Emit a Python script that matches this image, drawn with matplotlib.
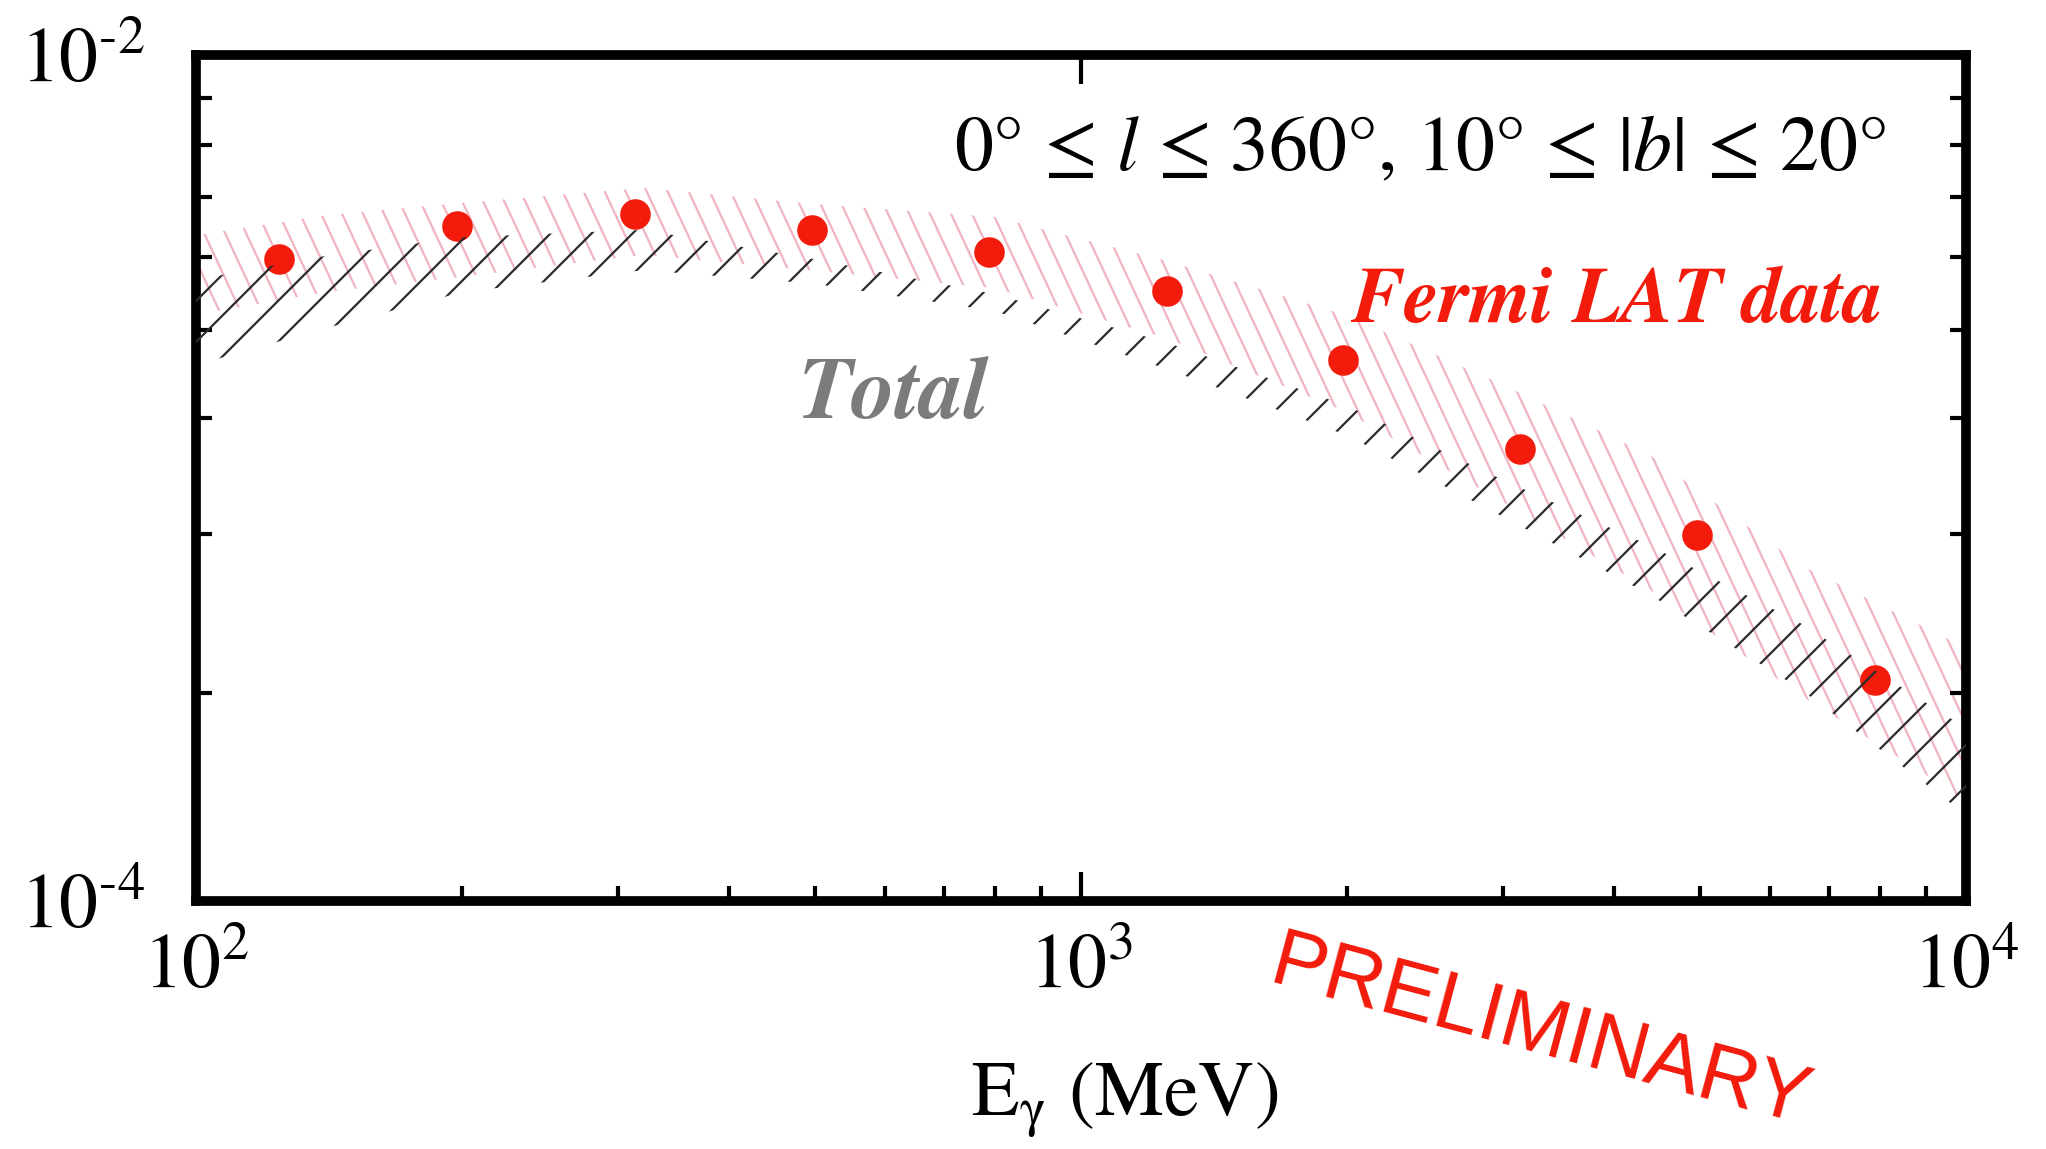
import numpy as np
import matplotlib
matplotlib.use("Agg")
import matplotlib.pyplot as plt
from matplotlib.collections import LineCollection
from matplotlib.ticker import FixedLocator, NullFormatter

# =========================================================
# data
# =========================================================

# Fermi LAT points (energy in MeV, E^2 x intensity)
energy_pts = [124, 197, 313, 496, 787, 1250, 1977, 3133, 4966, 7885]
flux_pts = [3.30e-3, 3.95e-3, 4.21e-3, 3.86e-3, 3.42e-3,
            2.77e-3, 1.90e-3, 1.17e-3, 7.33e-4, 3.33e-4]

# band nodes shared by both bands
band_energy = [100, 140, 200, 320, 500, 800, 1250, 2000, 3000, 4400, 6500, 10000]

# "Total" model band (black hatch)
total_hi = [2.94e-3, 3.35e-3, 3.71e-3, 3.86e-3, 3.29e-3, 2.72e-3,
            2.09e-3, 1.48e-3, 9.89e-4, 6.91e-4, 4.54e-4, 2.56e-4]
total_lo = [1.85e-3, 2.26e-3, 2.75e-3, 3.10e-3, 2.88e-3, 2.48e-3,
            1.81e-3, 1.26e-3, 8.09e-4, 5.29e-4, 3.17e-4, 1.60e-4]

# data systematic band (pink hatch)
data_hi = [3.75e-3, 4.18e-3, 4.47e-3, 4.85e-3, 4.44e-3, 4.14e-3,
           3.26e-3, 2.42e-3, 1.66e-3, 1.13e-3, 6.23e-4, 3.96e-4]
data_lo = [2.43e-3, 2.75e-3, 2.99e-3, 3.37e-3, 3.09e-3, 2.81e-3,
           2.14e-3, 1.43e-3, 8.77e-4, 5.43e-4, 3.07e-4, 1.73e-4]

# minor tick marks drawn on the y frame
y_minor_ticks = [7.91e-3, 6.12e-3, 4.62e-3, 3.33e-3, 2.24e-3, 1.39e-3, 7.37e-4, 3.10e-4]

x_major_ticks = [1e2, 1e3, 1e4]
x_tick_labels = [r"$10^{2}$", r"$10^{3}$", r"$10^{4}$"]
y_major_ticks = [1e-4, 1e-2]
y_tick_labels = [r"$10^{\text{-}4}$", r"$10^{\text{-}2}$"]

RED = "#f31b0b"

plt.rcParams["font.family"] = ["STIXGeneral", "DejaVu Sans"]
plt.rcParams["mathtext.fontset"] = "stix"

fig = plt.figure(figsize=(20.46, 11.49), dpi=100)
AX_POS = [196 / 2046, 1 - 901 / 1149, (1966 - 196) / 2046, (901 - 55) / 1149]
ax = fig.add_axes(AX_POS)


# =========================================================
# diagonal hatch clipped to a band
# =========================================================
def hatch_band(x, lo, hi, angle, step, color, lw, z):
    band = ax.fill_between(x, lo, hi, facecolor="none", edgecolor="none", zorder=z)
    w = fig.get_figwidth() * fig.dpi * AX_POS[2]
    h = fig.get_figheight() * fig.dpi * AX_POS[3]
    run = h / np.tan(np.radians(abs(angle)))
    if angle < 0:
        run = -run
    starts = np.arange(-abs(run) - step, w + abs(run) + step, step)
    segs = [[(s / w, 0.0), ((s + run) / w, 1.0)] for s in starts]
    lc = LineCollection(segs, colors=color, linewidths=lw,
                        transform=ax.transAxes, zorder=z)
    lc.set_clip_path(band.get_paths()[0], ax.transData)
    ax.add_collection(lc, autolim=False)


ax.set_xscale("log")
ax.set_yscale("log")
ax.set_xlim(1e2, 1e4)
ax.set_ylim(1e-4, 1e-2)

hatch_band(band_energy, data_lo, data_hi, -65, 21, "#f0b4c0", 1.6, 1)
ax.plot(energy_pts, flux_pts, "o", color=RED, markersize=22,
        markeredgewidth=0, zorder=2)
hatch_band(band_energy, total_lo, total_hi, 45, 41, "#2b2b2b", 1.6, 3)

# =========================================================
# frame and ticks
# =========================================================
for sp in ax.spines.values():
    sp.set_linewidth(7)

ax.set_xticks(x_major_ticks, labels=x_tick_labels)
ax.xaxis.set_minor_formatter(NullFormatter())
ax.set_yticks(y_major_ticks, labels=y_tick_labels)
ax.yaxis.set_minor_locator(FixedLocator(y_minor_ticks))
ax.yaxis.set_minor_formatter(NullFormatter())

ax.tick_params(axis="x", which="major", direction="in", length=21, width=3,
               top=True, labelsize=56, pad=24)
ax.tick_params(axis="x", which="minor", direction="in", length=11, width=3,
               top=False)
ax.tick_params(axis="y", which="major", direction="in", length=0,
               right=True, labelsize=56, pad=37)
ax.tick_params(axis="y", which="minor", direction="in", length=11.5, width=3,
               right=True)

# =========================================================
# texts
# =========================================================
fig.text(1886 / 2046, 1 - 170 / 1149,
         "0° ≤ $l$ ≤ 360°, 10° ≤ |$b$| ≤ 20°",
         ha="right", va="baseline", fontsize=56)
fig.text(1351 / 2046, 1 - 322 / 1149, "Fermi LAT data", color=RED,
         fontsize=57, fontweight="bold", fontstyle="italic",
         ha="left", va="baseline")
fig.text(799 / 2046, 1 - 418 / 1149, "Total", color="#7b7b7b",
         fontsize=63, fontweight="bold", fontstyle="italic",
         ha="left", va="baseline")
fig.text(1125 / 2046, 1 - 1116 / 1149, r"E$_{\mathrm{\gamma}}$ (MeV)",
         ha="center", va="baseline", fontsize=56)
fig.text(1540 / 2046, 1 - 1034 / 1149, "PRELIMINARY", color=RED,
         family="Liberation Sans", fontsize=59, rotation=-15,
         ha="center", va="center")

fig.savefig("out.png", dpi=100)
